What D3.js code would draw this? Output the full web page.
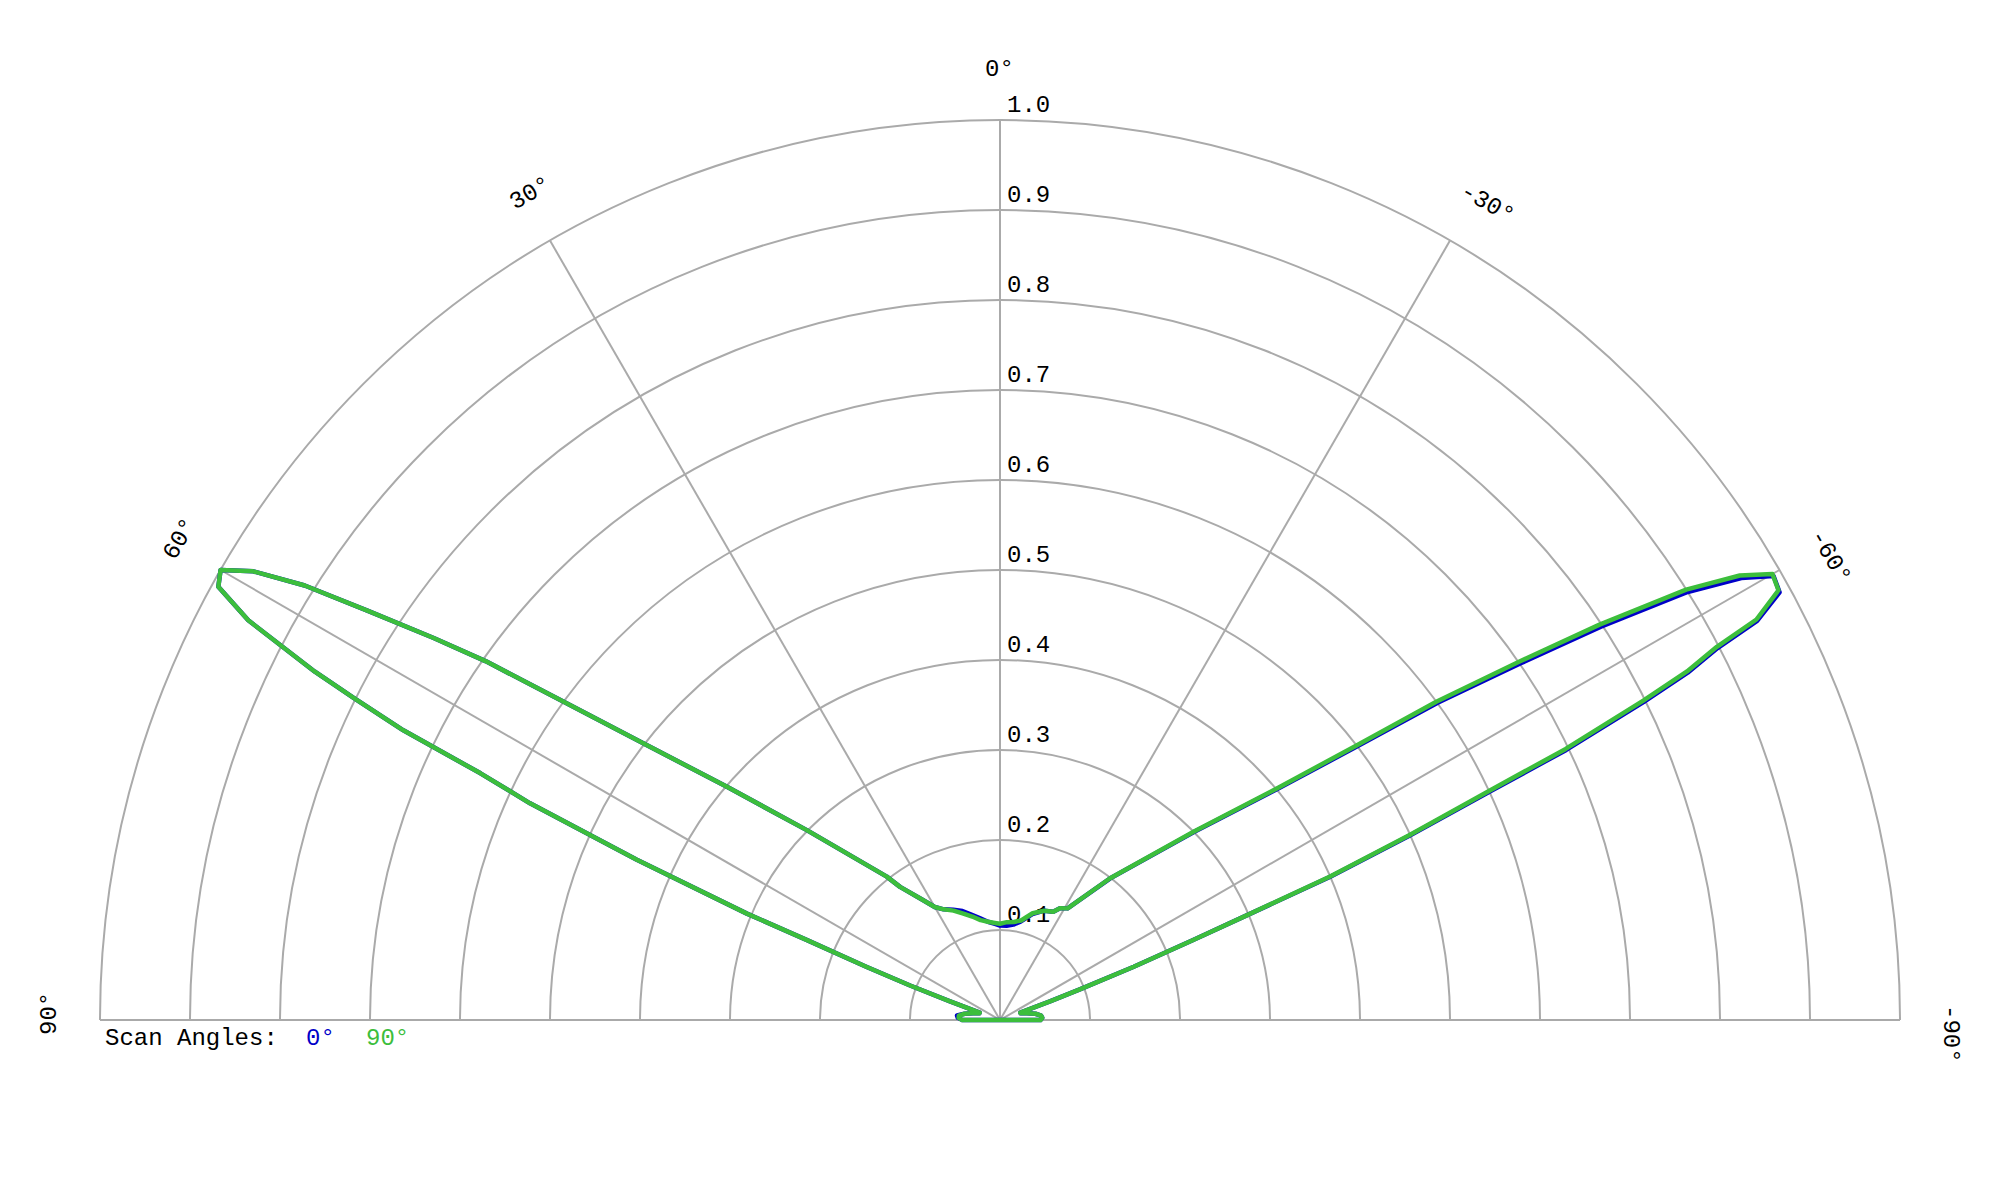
<!DOCTYPE html>
<html>
<head>
<meta charset="utf-8">
<script src="https://cdn.jsdelivr.net/npm/d3@7"></script>
<style>
  body { margin: 0; background: #ffffff; }
  svg { display: block; }
  text { font-family: "Liberation Mono", "Courier New", monospace; }
</style>
</head>
<body>
<svg id="chart" width="2000" height="1200"></svg>
<script>
// ---------------- data ----------------
const radialTicks = [0.1, 0.2, 0.3, 0.4, 0.5, 0.6, 0.7, 0.8, 0.9, 1.0];
const radialTickLabels = ["0.1", "0.2", "0.3", "0.4", "0.5", "0.6", "0.7", "0.8", "0.9", "1.0"];
const spokeAngles = [0, 30, 60, -30, -60];
const angleTicks = [90, 60, 30, 0, -30, -60, -90];
const angleTickLabels = ["90°", "60°", "30°", "0°", "-30°", "-60°", "-90°"];
const scanAngleLabels = ["0°", "90°"];

// Scan angle 90° (green)
const angles90 = [-90, -87, -84, -80, -76, -72, -70, -69.6, -69.0, -68.3, -67.5, -67.0, -66.5, -65.7, -64.9, -64.4,
  -63.6, -63.1, -62.5, -62.1, -61.1, -60.0, -59.0, -57.9, -56.6, -55.4, -53.9, -52.4, -50.1, -45.8, -37.8,
  -31.2, -28.2, -26.2, -22, -17, -12, -8, -4, 0, 3, 7, 11, 15, 19, 23, 27, 30, 33, 36.9, 38.3, 45.5, 49.5,
  52.1, 53.9, 55.1, 56.0, 57.1, 58.0, 59.0, 60.0, 61.0, 62.0, 63.05, 63.5, 64.1, 64.6, 65.25, 66.2, 67.2,
  67.5, 68.3, 69.0, 69.6, 70, 72, 76, 80, 84, 87, 90];
const gain90 = [0.045, 0.047, 0.046, 0.040, 0.031, 0.024, 0.024, 0.060, 0.095, 0.160, 0.233, 0.301, 0.400, 0.500, 0.600, 0.697,
  0.798, 0.856, 0.898, 0.951, 0.988, 0.991, 0.959, 0.900, 0.798, 0.702, 0.600, 0.500, 0.401, 0.300, 0.199,
  0.145, 0.141, 0.134, 0.131, 0.124, 0.113, 0.110, 0.109, 0.107, 0.108, 0.110, 0.113, 0.119, 0.125, 0.132, 0.138, 0.145, 0.160, 0.185, 0.203, 0.301, 0.399,
  0.497, 0.600, 0.697, 0.759, 0.838, 0.911, 0.968, 1.000, 0.993, 0.946, 0.854, 0.803, 0.737, 0.639, 0.575, 0.441, 0.305,
  0.232, 0.160, 0.107, 0.060, 0.024, 0.024, 0.031, 0.040, 0.046, 0.046, 0.042];

// Scan angle 0° (blue)
const angles0 = [-90, -87, -84, -80, -76, -72, -70, -69.6, -69.0, -68.3, -67.5, -67.0, -66.55, -65.75, -65.0, -64.5,
  -63.7, -63.2, -62.6, -62.2, -61.25, -60.15, -59.2, -58.1, -56.8, -55.6, -54.05, -52.55, -50.2, -45.9, -37.85,
  -31.2, -28.2, -26.2, -22, -17, -12, -8, -4, 0, 3, 7, 11, 15, 19, 23, 27, 30, 33, 36.9, 38.3, 45.5, 49.5,
  52.1, 53.9, 55.1, 56.0, 57.1, 58.0, 59.0, 60.0, 61.0, 62.0, 63.05, 63.5, 64.1, 64.6, 65.25, 66.2, 67.2,
  67.5, 68.3, 69.0, 69.6, 70, 72, 76, 80, 84, 87, 90];
const gain0 = [0.045, 0.047, 0.046, 0.040, 0.031, 0.024, 0.024, 0.060, 0.095, 0.160, 0.233, 0.301, 0.400, 0.500, 0.600, 0.697,
  0.798, 0.856, 0.898, 0.951, 0.988, 0.991, 0.959, 0.900, 0.798, 0.702, 0.600, 0.500, 0.401, 0.300, 0.199,
  0.145, 0.141, 0.134, 0.131, 0.123, 0.112, 0.107, 0.105, 0.105, 0.107, 0.110, 0.115, 0.121, 0.128, 0.133, 0.138, 0.145, 0.160, 0.185, 0.203, 0.301, 0.399,
  0.497, 0.600, 0.697, 0.759, 0.838, 0.911, 0.968, 1.000, 0.993, 0.946, 0.854, 0.803, 0.737, 0.639, 0.575, 0.441, 0.305,
  0.232, 0.160, 0.107, 0.060, 0.024, 0.024, 0.031, 0.040, 0.048, 0.047, 0.042];

const seriesColors = ["#0000c8", "#3cbe3c"];

// ---------------- layout ----------------
const svg = d3.select("#chart");
const cx = 1000, cy = 1020, R = 900;
const r = d3.scaleLinear().domain([0, 1]).range([0, R]);
// data angle (deg, positive to the left) -> lineRadial angle (rad, clockwise from up)
const a = d3.scaleLinear().domain([-90, 90]).range([Math.PI / 2, -Math.PI / 2]);

const g = svg.append("g").attr("transform", `translate(${cx},${cy})`);
const grid = g.append("g").attr("fill", "none").attr("stroke", "#aaaaaa").attr("stroke-width", 2);

grid.selectAll("path.ring").data(radialTicks).join("path")
  .attr("class", "ring")
  .attr("d", v => { const p = d3.path(); p.arc(0, 0, r(v), Math.PI, 2 * Math.PI); return p.toString(); });

grid.append("line").attr("x1", -r(1)).attr("x2", r(1)).attr("y1", 0).attr("y2", 0);

grid.selectAll("line.spoke").data(spokeAngles).join("line")
  .attr("class", "spoke")
  .attr("x1", 0).attr("y1", 0)
  .attr("x2", d => r(1) * Math.sin(a(d)))
  .attr("y2", d => -r(1) * Math.cos(a(d)));

// radial tick labels
g.selectAll("text.rtick").data(radialTicks).join("text")
  .attr("class", "rtick")
  .attr("x", 7)
  .attr("y", d => -r(d) - 8)
  .attr("font-size", 24)
  .attr("fill", "#000")
  .text((d, i) => radialTickLabels[i]);

// angle labels
const al = g.selectAll("g.atick").data(angleTicks).join("g")
  .attr("class", "atick")
  .attr("transform", d => `rotate(${-d}) translate(0,${-(r(1) + 44)})`);
al.append("text")
  .attr("x", -15)
  .attr("font-size", 24)
  .attr("fill", "#000")
  .text((d, i) => angleTickLabels[i]);

// series
const series = [
  { angles: angles0, gain: gain0, color: seriesColors[0] },
  { angles: angles90, gain: gain90, color: seriesColors[1] }
];
const line = d3.lineRadial().curve(d3.curveLinearClosed);
series.forEach(s => {
  const pts = s.angles.map((ang, i) => [a(ang), r(s.gain[i])]);
  g.append("path")
    .attr("d", line(pts))
    .attr("fill", "none")
    .attr("stroke", s.color)
    .attr("stroke-width", 4.5)
    .attr("stroke-linejoin", "round");
});

// legend
svg.append("text").attr("x", 105).attr("y", 1045).attr("font-size", 24).attr("fill", "#000").text("Scan Angles:");
const legendX = [306, 366];
svg.selectAll("text.leg").data(scanAngleLabels).join("text")
  .attr("class", "leg")
  .attr("x", (d, i) => legendX[i])
  .attr("y", 1045)
  .attr("font-size", 24)
  .attr("fill", (d, i) => seriesColors[i])
  .text(d => d);
</script>
</body>
</html>
